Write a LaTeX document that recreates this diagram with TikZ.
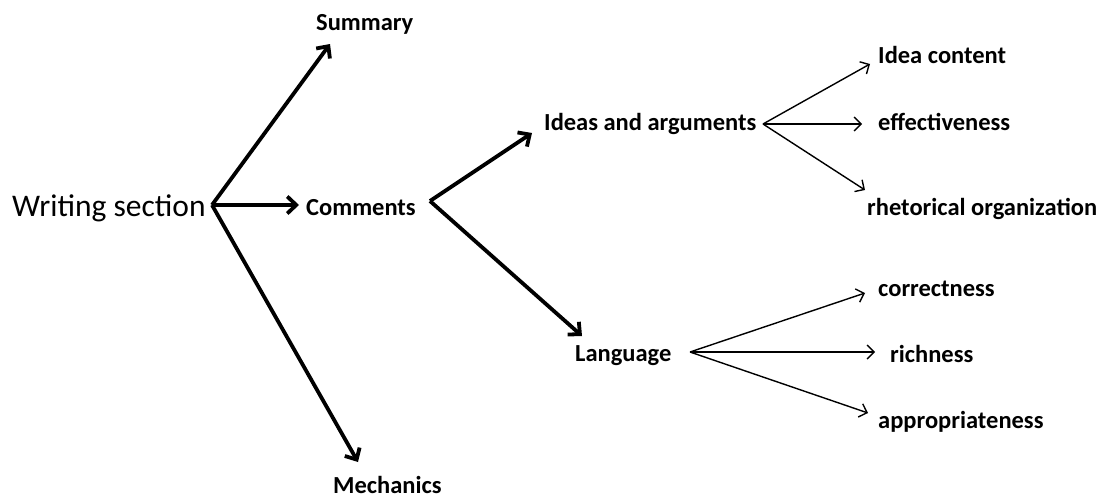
\documentclass[tikz,border=0pt]{standalone}
\usepackage{fontspec}
\setmainfont{Carlito}
\usetikzlibrary{arrows.meta}
\begin{document}
\begin{tikzpicture}[x=1pt,y=-1pt,
  lbl/.style={inner sep=0pt,anchor=base west,font=\bfseries\fontsize{24.5}{28}\selectfont},
  root/.style={inner sep=0pt,anchor=base west,font=\fontsize{31.5}{36}\selectfont},
  thick arrow/.style={line width=3.8pt,-{Straight Barb[length=9pt,width=17pt,line width=3.8pt]}},
  thin arrow/.style={line width=1.4pt,-{Straight Barb[length=7pt,width=14pt,line width=1.4pt]}}]
\useasboundingbox (0,0) rectangle (1102,498);
% labels
\node[root] (ws) at (12,216) {Writing section};
\node[lbl] (sum) at (316,30) {Summary};
\node[lbl] (com) at (306,215) {Comments};
\node[lbl] (mech) at (333,493) {Mechanics};
\node[lbl] (ideas) at (544,130) {Ideas and arguments};
\node[lbl] (lang) at (575,361) {Language};
\node[lbl] (ic) at (878,63) {Idea content};
\node[lbl] (eff) at (878,130) {effectiveness};
\node[lbl] (rh) at (867,215) {rhetorical organization};
\node[lbl] (cor) at (878,296) {correctness};
\node[lbl] (rich) at (890,362) {richness};
\node[lbl] (app) at (878,428) {appropriateness};
% branch points and arrow ends
\coordinate (wsR) at (212,205);
\coordinate (comR) at (430,201);
\coordinate (ideasR) at (763,124);
\coordinate (langR) at (690,352);
\coordinate (toSum) at (330,44);
\coordinate (toCom) at (299,205);
\coordinate (toMech) at (358,462);
\coordinate (toIdeas) at (532,133);
\coordinate (toLang) at (582,336);
\coordinate (toIc) at (870,64);
\coordinate (toEff) at (862,124);
\coordinate (toRh) at (865,190);
\coordinate (toCor) at (865,293);
\coordinate (toRich) at (875,352);
\coordinate (toApp) at (868,413);
% connectors
\draw[thick arrow] (wsR) -- (toSum);
\draw[thick arrow] (wsR) -- (toCom);
\draw[thick arrow] (wsR) -- (toMech);
\draw[thick arrow] (comR) -- (toIdeas);
\draw[thick arrow] (comR) -- (toLang);
\draw[thin arrow] (ideasR) -- (toIc);
\draw[thin arrow] (ideasR) -- (toEff);
\draw[thin arrow] (ideasR) -- (toRh);
\draw[thin arrow] (langR) -- (toCor);
\draw[thin arrow] (langR) -- (toRich);
\draw[thin arrow] (langR) -- (toApp);
\end{tikzpicture}
\end{document}
